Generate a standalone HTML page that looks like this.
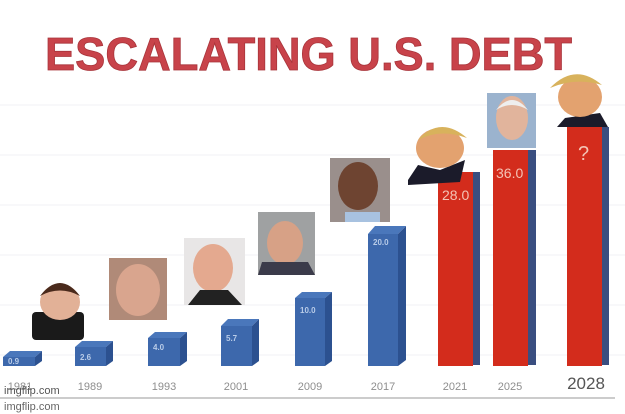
<!DOCTYPE html>
<html><head><style>body{margin:0;background:#fff}svg{display:block}</style></head><body>
<svg width="625" height="414" viewBox="0 0 625 414" font-family="Liberation Sans, sans-serif">
<rect width="625" height="414" fill="#fff"/>
<g stroke="#f1f2f5" stroke-width="1">
<line x1="0" y1="105" x2="625" y2="105"/><line x1="0" y1="155" x2="625" y2="155"/><line x1="0" y1="205" x2="625" y2="205"/><line x1="0" y1="255" x2="625" y2="255"/><line x1="0" y1="305" x2="625" y2="305"/><line x1="0" y1="355" x2="625" y2="355"/>
</g>
<text x="45" y="70" textLength="527" lengthAdjust="spacingAndGlyphs" font-size="46" font-weight="bold" fill="#c8434a" stroke="#a8343a" stroke-width="0.8">ESCALATING U.S. DEBT</text>
<g fill="#4a77bb">
<polygon points="3,357 10,351 42,351 35,357"/><polygon points="75,347 82,341 113,341 106,347"/><polygon points="148,338 155,332 187,332 180,338"/><polygon points="221,326 228,319 259,319 252,326"/><polygon points="295,298 302,292 332,292 325,298"/><polygon points="368,234 375,226 406,226 398,234"/>
</g>
<g fill="#3d68ac">
<rect x="3" y="357" width="32" height="9"/><rect x="75" y="347" width="31" height="19"/><rect x="148" y="338" width="32" height="28"/><rect x="221" y="326" width="31" height="40"/><rect x="295" y="298" width="30" height="68"/><rect x="368" y="234" width="30" height="132"/>
</g>
<g fill="#2c5190">
<polygon points="35,357 42,351 42,361 35,366"/><polygon points="106,347 113,341 113,361 106,366"/><polygon points="180,338 187,332 187,361 180,366"/><polygon points="252,326 259,319 259,361 252,366"/><polygon points="325,298 332,292 332,361 325,366"/><polygon points="398,234 406,226 406,360 398,366"/>
</g>
<g fill="#b9cce8" font-size="8" font-weight="bold">
<text x="8" y="364">0.9</text><text x="80" y="360">2.6</text><text x="153" y="350">4.0</text><text x="226" y="341">5.7</text><text x="300" y="313">10.0</text><text x="373" y="245">20.0</text>
</g>
<rect x="473" y="172" width="7" height="193" fill="#3a4e80"/><rect x="438" y="172" width="35" height="194" fill="#d32c1c"/>
<rect x="528" y="150" width="8" height="215" fill="#3a4e80"/><rect x="493" y="150" width="35" height="216" fill="#d32c1c"/>
<rect x="602" y="127" width="7" height="238" fill="#3a4e80"/><rect x="567" y="127" width="35" height="239" fill="#d32c1c"/>
<g fill="#f4c3b5" font-size="14">
<text x="442" y="200">28.0</text><text x="496" y="178">36.0</text><text x="578" y="160" font-size="20">?</text>
</g>
<g>
<rect x="32" y="312" width="52" height="28" rx="4" fill="#1a1a1a"/><ellipse cx="60" cy="302" rx="20" ry="18" fill="#e2b197"/><path d="M40,296 Q60,270 80,296 Q60,285 40,296Z" fill="#4a2a1c"/>
<rect x="109" y="258" width="58" height="62" fill="#b08a78"/><ellipse cx="138" cy="290" rx="22" ry="26" fill="#d9a58e"/>
<rect x="184" y="238" width="61" height="67" fill="#e8e6e6"/><ellipse cx="213" cy="268" rx="20" ry="24" fill="#e4a98f"/><path d="M188,305 L200,290 L228,290 L242,305Z" fill="#222"/>
<rect x="258" y="212" width="57" height="63" fill="#9fa1a2"/><ellipse cx="285" cy="243" rx="18" ry="22" fill="#d7a186"/><path d="M258,275 L262,262 L308,262 L315,275Z" fill="#3b3b4a"/>
<rect x="330" y="158" width="60" height="64" fill="#9a8f8c"/><ellipse cx="358" cy="186" rx="20" ry="24" fill="#6e4431"/><rect x="345" y="212" width="35" height="10" fill="#a8c2e0"/>
<path d="M408,180 L418,165 L440,170 L465,160 L460,182 L408,185Z" fill="#1b1b2a"/><ellipse cx="440" cy="148" rx="24" ry="20" fill="#e3a26f"/><path d="M418,140 Q440,115 467,138 Q440,128 418,140Z" fill="#d8b25c"/>
<rect x="487" y="93" width="49" height="55" fill="#9bb3ce"/><ellipse cx="512" cy="118" rx="16" ry="22" fill="#e1b49c"/><path d="M496,110 Q512,90 528,110 Q512,100 496,110Z" fill="#eee"/>
<path d="M557,127 L565,118 L600,113 L608,127Z" fill="#1b1b2a"/><ellipse cx="580" cy="97" rx="22" ry="20" fill="#e3a26f"/><path d="M550,88 Q575,62 602,85 Q575,77 550,88Z" fill="#d8b25c"/>
</g>
<g fill="#8e8e8e" font-size="11" text-anchor="middle">
<text x="20" y="390">1981</text><text x="90" y="390">1989</text><text x="164" y="390">1993</text><text x="236" y="390">2001</text><text x="310" y="390">2009</text><text x="383" y="390">2017</text><text x="455" y="390">2021</text><text x="510" y="390">2025</text>
</g>
<text x="586" y="389" font-size="17" fill="#555" text-anchor="middle">2028</text>
<line x1="0" y1="398" x2="615" y2="398" stroke="#999" stroke-width="1"/>
<text x="4" y="394" font-size="11" fill="#555">imgflip.com</text>
<text x="4" y="410" font-size="11" fill="#666">imgflip.com</text>
</svg>
</body></html>
